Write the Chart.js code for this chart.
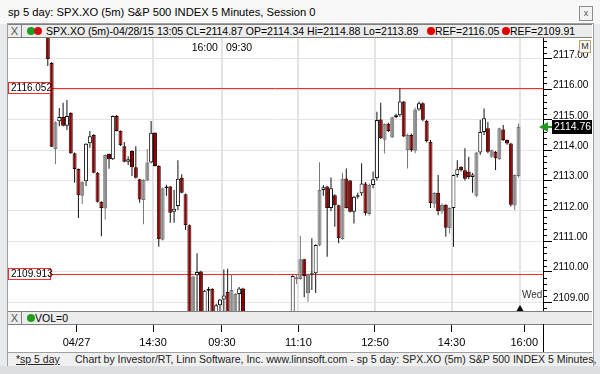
<!DOCTYPE html>
<html>
<head>
<meta charset="utf-8">
<script src="https://cdn.jsdelivr.net/npm/chart.js@4.4.1/dist/chart.umd.min.js"></script>
<style>
  html, body { margin: 0; padding: 0; }
  body { width: 600px; height: 374px; position: relative; overflow: hidden; background: #e8eaed; font-family: "Liberation Sans", Arial, sans-serif; color: #000; }
  div, span, canvas { position: absolute; }
  #titlebar { left: 0; top: 0; width: 600px; height: 24px; background: #f8f8f8; }
  #title { left: 8px; top: 6px; font-size: 11.2px; white-space: nowrap; }
  #closebtn { left: 579px; top: 6px; width: 12px; height: 13px; border: 1px solid #8c8c8c; background: #f3f3f3; font-size: 9px; line-height: 13px; text-align: center; color: #555; }
  #frame { left: 7px; top: 23px; width: 585px; height: 343px; border: 1px solid #a0a0a0; background: #fff; }
  .strip { left: 8px; width: 584px; height: 12px; background: #ececec; border-top: 1px solid #808080; border-bottom: 1px solid #808080; font-size: 10.5px; line-height: 12px; white-space: nowrap; z-index: 2; }
  .xbox { left: 0; top: 0; width: 13px; height: 12px; border-right: 1px solid #808080; text-align: center; color: #555; font-size: 11px; }
  .dot { top: 2px; width: 8px; height: 8px; border-radius: 50%; }
  .txt { top: 0; }
  #chartwrap { left: 8px; top: 38px; width: 584px; height: 314px; z-index: 1; }
  #mbtn { left: 579px; top: 40px; width: 10px; height: 11px; border: 1px solid #c0a070; background: #f6f6f6; font-size: 9px; line-height: 11px; text-align: center; color: #333; z-index: 3; }
  #axisline { left: 543px; top: 324px; width: 1px; height: 28px; background: #000; z-index: 3; }
  #footer { left: 8px; top: 352px; width: 584px; height: 13px; border-top: 1px solid #a0a0a0; background: #f0f0f0; font-size: 10.5px; line-height: 13px; white-space: nowrap; z-index: 2; }
  #bottomframe { left: 0; top: 366px; width: 600px; height: 8px; background: #dcdee2; }
</style>
</head>
<body>
<div id="titlebar"><span id="title">sp 5 day: SPX.XO (5m) S&amp;P 500 INDEX 5 Minutes, Session 0</span></div>
<div id="closebtn">x</div>
<div id="frame"></div>
<div class="strip" style="top:24px">
  <span class="xbox">X</span>
  <span class="dot" style="left:19px;background:#1e9e1e"></span>
  <span class="dot" style="left:26px;background:#d01010"></span>
  <span class="txt" style="left:38px">SPX.XO (5m)-04/28/15 13:05 CL=2114.87 OP=2114.34 Hi=2114.88 Lo=2113.89</span>
  <span class="dot" style="left:419px;background:#e00000"></span>
  <span class="txt" style="left:427px">REF=2116.05</span>
  <span class="dot" style="left:494px;background:#e00000"></span>
  <span class="txt" style="left:502px">REF=2109.91</span>
</div>
<div id="chartwrap"><canvas id="c" width="584" height="314"></canvas></div>
<div id="mbtn">M</div>
<div class="strip" style="top:311px">
  <span class="xbox">X</span>
  <span class="dot" style="left:19px;background:#1e9e1e"></span>
  <span class="txt" style="left:27px">VOL=0</span>
</div>
<div id="axisline"></div>
<div id="footer">
  <span style="left:8px;text-decoration:underline;color:#222">*sp 5 day</span>
  <span style="left:67px;color:#222">Chart by Investor/RT, Linn Software, Inc. www.linnsoft.com - sp 5 day: SPX.XO (5m) S&amp;P 500 INDEX 5 Minutes,</span>
</div>
<div id="bottomframe"></div>
<script>
// bar index 0 = 04/28 09:30, negative = 04/27
const firstBar = -50;
const opens = [
  2119.60, 2119.20, 2118.90, 2118.70,
  2118.30, 2116.87, 2114.04, 2114.95, 2115.09, 2114.80, 2115.22, 2113.90, 2113.38, 2112.50,
  2112.98, 2114.23, 2114.50, 2113.26, 2112.30, 2112.08, 2113.87, 2113.70, 2115.12, 2114.63,
  2114.13, 2113.62, 2113.97, 2113.44, 2113.04, 2112.36, 2113.00, 2113.59, 2114.57, 2113.48,
  2111.05, 2112.75, 2112.80, 2111.97, 2112.16, 2113.09, 2112.55, 2111.53, 2108.10, 2109.88,
  2110.01, 2108.55, 2109.37, 2109.44, 2108.60, 2108.90,
  2109.09, 2109.33, 2108.00, 2108.20, 2109.27, 2109.45, 2107.80, 2106.20, 2104.10, 2101.60,
  2099.80, 2097.30, 2095.40, 2095.80, 2098.20, 2100.80, 2103.50, 2106.00, 2107.90, 2109.75,
  2109.76, 2110.41, 2109.29, 2109.92, 2109.95, 2110.86, 2112.69, 2112.80, 2112.10, 2112.52,
  2112.19, 2111.08, 2113.07, 2113.00, 2111.97, 2112.47, 2112.58, 2112.90, 2111.90, 2112.85,
  2113.08, 2115.01, 2114.34, 2114.87, 2114.42, 2115.08, 2115.15, 2115.60, 2114.00, 2114.50,
  2113.98, 2115.34, 2115.54, 2114.97, 2114.28, 2112.24, 2112.60, 2111.98, 2112.20, 2111.43,
  2112.10, 2113.18, 2113.45, 2113.34, 2113.29, 2113.12, 2112.50, 2113.92, 2114.60, 2114.72,
  2113.78, 2113.95, 2113.70, 2114.68, 2114.33, 2114.22, 2112.18, 2113.15
];
const highs = [
  2119.90, 2119.50, 2119.30, 2119.00,
  2118.40, 2116.90, 2114.95, 2115.39, 2115.56, 2115.65, 2115.25, 2113.92, 2113.40, 2112.98,
  2114.23, 2114.63, 2114.52, 2113.28, 2112.32, 2113.86, 2113.89, 2115.14, 2115.16, 2114.65,
  2114.27, 2113.80, 2113.99, 2114.13, 2113.06, 2113.04, 2114.04, 2114.96, 2114.59, 2113.50,
  2112.77, 2112.86, 2112.82, 2112.69, 2113.67, 2113.21, 2112.57, 2111.55, 2109.86, 2110.61,
  2110.03, 2109.40, 2109.50, 2109.46, 2108.95, 2109.10,
  2110.07, 2110.10, 2109.90, 2109.30, 2109.50, 2109.47, 2108.00, 2106.50, 2104.60, 2102.40,
  2100.30, 2098.10, 2096.20, 2098.60, 2101.20, 2103.90, 2106.40, 2108.30, 2109.88, 2109.90,
  2111.18, 2110.43, 2109.94, 2111.10, 2110.90, 2113.60, 2112.85, 2112.82, 2113.10, 2112.55,
  2112.20, 2113.26, 2113.40, 2113.02, 2112.50, 2112.60, 2113.57, 2112.95, 2112.90, 2113.30,
  2115.26, 2115.56, 2114.88, 2114.90, 2115.10, 2115.20, 2116.03, 2115.62, 2114.55, 2114.55,
  2115.40, 2115.60, 2115.58, 2115.00, 2114.33, 2112.62, 2113.18, 2112.25, 2112.22, 2112.12,
  2113.20, 2113.67, 2113.47, 2114.06, 2113.78, 2113.25, 2113.95, 2115.00, 2115.37, 2114.93,
  2114.02, 2113.97, 2114.74, 2114.83, 2114.35, 2114.24, 2113.20, 2114.88
];
const lows = [
  2119.00, 2118.60, 2118.40, 2118.10,
  2116.77, 2114.10, 2113.54, 2114.79, 2114.79, 2114.66, 2113.88, 2112.93, 2111.77, 2112.23,
  2112.82, 2114.08, 2113.24, 2112.28, 2111.17, 2111.72, 2113.39, 2113.68, 2114.61, 2114.14,
  2113.60, 2113.51, 2113.15, 2113.07, 2112.27, 2111.56, 2112.98, 2113.57, 2113.46, 2110.82,
  2111.03, 2112.50, 2111.61, 2111.61, 2112.03, 2112.58, 2111.37, 2108.00, 2108.00, 2108.40,
  2108.40, 2108.50, 2108.60, 2108.50, 2108.40, 2108.50,
  2108.30, 2108.00, 2107.80, 2108.10, 2108.40, 2107.50, 2105.90, 2103.80, 2101.20, 2099.30,
  2096.90, 2094.80, 2094.00, 2095.50, 2097.90, 2100.40, 2103.10, 2105.60, 2107.70, 2109.60,
  2109.74, 2109.16, 2109.01, 2109.40, 2109.30, 2110.84, 2112.50, 2110.49, 2112.00, 2111.48,
  2110.94, 2111.05, 2112.08, 2111.95, 2111.59, 2112.40, 2112.50, 2111.85, 2111.85, 2112.75,
  2113.00, 2114.37, 2113.89, 2114.60, 2114.40, 2115.05, 2115.10, 2114.43, 2113.40, 2113.95,
  2113.90, 2115.30, 2114.95, 2114.25, 2112.10, 2112.10, 2111.86, 2111.90, 2111.15, 2111.26,
  2110.82, 2113.10, 2113.30, 2113.00, 2113.05, 2112.60, 2112.45, 2113.85, 2114.50, 2113.90,
  2113.75, 2113.35, 2113.68, 2114.30, 2114.18, 2112.15, 2112.03, 2113.10
];
const closes = [
  2119.20, 2118.90, 2118.70, 2118.30,
  2117.00, 2114.11, 2114.92, 2115.09, 2114.80, 2115.12, 2113.90, 2113.38, 2112.52, 2112.96,
  2114.21, 2114.46, 2113.26, 2112.30, 2112.10, 2113.84, 2113.70, 2115.12, 2114.63, 2114.16,
  2113.62, 2113.70, 2113.44, 2113.09, 2112.38, 2113.02, 2113.59, 2114.57, 2113.48, 2111.07,
  2112.75, 2112.80, 2111.94, 2112.07, 2113.06, 2112.60, 2111.53, 2108.20, 2109.84, 2109.99,
  2108.50, 2109.37, 2109.44, 2108.60, 2108.90, 2109.09,
  2109.22, 2108.10, 2109.40, 2109.27, 2109.45, 2107.80, 2106.20, 2104.10, 2101.60, 2099.80,
  2097.30, 2095.40, 2095.80, 2098.20, 2100.80, 2103.50, 2106.00, 2107.90, 2109.86, 2109.82,
  2110.41, 2109.86, 2109.92, 2109.95, 2110.88, 2112.69, 2112.78, 2112.10, 2112.75, 2112.19,
  2111.10, 2113.07, 2112.10, 2111.97, 2112.47, 2112.52, 2112.90, 2111.92, 2112.85, 2113.04,
  2114.99, 2114.39, 2114.87, 2114.63, 2115.08, 2115.15, 2115.60, 2114.45, 2114.50, 2114.00,
  2115.34, 2115.54, 2115.00, 2114.30, 2112.26, 2112.59, 2112.00, 2112.20, 2111.45, 2112.10,
  2113.18, 2113.37, 2113.34, 2113.06, 2113.12, 2113.20, 2113.92, 2114.60, 2115.05, 2113.95,
  2114.00, 2113.73, 2114.72, 2114.33, 2114.22, 2112.20, 2113.18, 2114.76
];

const refLevels = [2116.052, 2109.913];
const priceTicks = [2109, 2110, 2111, 2112, 2113, 2114, 2115, 2116, 2117];
const tickBars = [-38.5, -18.5, -0.5, 19.5, 39.5, 59.5, 78.5];
const tickLabels = ['04/27', '14:30', '09:30', '11:10', '12:50', '14:30', '16:00'];
const gridBars = [-18.5, -0.5, 19.5, 39.5, 59.5, 77.5];
const sessionBreak = -0.5;
const sessionLabels = ['16:00', '09:30'];
const nextSession = 77.5;
const nextSessionLabel = 'Wed';

const COLORS = {
    down: {fill: '#900000', edge: '#2b0000', wick: '#111111'},
    gray: {fill: '#8c8c8c', edge: '#6e6e6e', wick: '#777777'},
    up:   {fill: '#ffffff', edge: '#111111', wick: '#111111'},
};

function tone(i) {
    if (closes[i] < opens[i]) return 'down';
    if (i > 0 && opens[i] < closes[i - 1]) return 'gray';
    return 'up';
}

const overlay = {
    id: 'overlay',
    beforeDatasetsDraw(chart) {
        const {ctx, chartArea: a, scales: {x, y}} = chart;
        ctx.save();
        ctx.strokeStyle = '#e4e4e4';
        ctx.lineWidth = 2;
        gridBars.forEach(b => {
            const px = Math.round(x.getPixelForValue(b));
            ctx.beginPath();
            ctx.moveTo(px, a.top);
            ctx.lineTo(px, a.bottom);
            ctx.stroke();
        });
        ctx.strokeStyle = '#ff2a2a';
        ctx.lineWidth = 1;
        refLevels.forEach(v => {
            const py = Math.round(y.getPixelForValue(v)) + 0.5;
            ctx.beginPath();
            ctx.moveTo(a.left, py);
            ctx.lineTo(a.right, py);
            ctx.stroke();
        });
        ctx.restore();
    },
    afterDatasetsDraw(chart) {
        const {ctx, chartArea: a, scales: {x, y}} = chart;
        ctx.save();
        ctx.font = '10px "Liberation Sans", Arial, sans-serif';
        ctx.textBaseline = 'middle';
        refLevels.forEach(v => {
            const py = Math.round(y.getPixelForValue(v));
            ctx.fillStyle = '#fff';
            ctx.fillRect(a.left + 0.5, py - 5.5, 42, 11);
            ctx.strokeStyle = '#ff2a2a';
            ctx.strokeRect(a.left + 0.5, py - 5.5, 42, 11);
            ctx.fillStyle = '#000';
            ctx.fillText(v.toFixed(3), a.left + 3, py + 0.5);
        });
        // session labels along the top
        ctx.font = '10.5px "Liberation Sans", Arial, sans-serif';
        const sx = x.getPixelForValue(sessionBreak);
        ctx.textAlign = 'right';
        ctx.fillText(sessionLabels[0], sx - 4, a.top + 10);
        ctx.textAlign = 'left';
        ctx.fillText(sessionLabels[1], sx + 4, a.top + 10);
        // next session marker
        const plotBottom = a.bottom - 13;
        const nx = Math.round(x.getPixelForValue(nextSession));
        ctx.font = '10px "Liberation Sans", Arial, sans-serif';
        ctx.fillStyle = '#333';
        ctx.fillText(nextSessionLabel, nx + 2, plotBottom - 16);
        ctx.fillStyle = '#000';
        ctx.beginPath();
        ctx.moveTo(nx, plotBottom - 6);
        ctx.lineTo(nx + 3.5, plotBottom);
        ctx.lineTo(nx - 3.5, plotBottom);
        ctx.closePath();
        ctx.fill();
        ctx.restore();
    },
    afterDraw(chart) {
        const {ctx, chartArea: a, scales: {y}} = chart;
        ctx.save();
        // minor ticks every 0.2 on the price axis
        ctx.strokeStyle = '#000';
        ctx.lineWidth = 1;
        for (let k = Math.ceil(y.min * 5); k <= Math.floor(y.max * 5); k++) {
            if (k % 5 === 0) continue;
            const py = Math.round(y.getPixelForValue(k / 5)) + 0.5;
            ctx.beginPath();
            ctx.moveTo(a.right, py);
            ctx.lineTo(a.right + 4, py);
            ctx.stroke();
        }
        // last price marker
        const last = closes[closes.length - 1];
        const py = Math.round(y.getPixelForValue(last));
        ctx.fillStyle = '#1f9a1f';
        ctx.beginPath();
        ctx.moveTo(a.right - 4, py);
        ctx.lineTo(a.right + 5, py - 5);
        ctx.lineTo(a.right + 5, py + 5);
        ctx.closePath();
        ctx.fill();
        ctx.fillRect(a.right + 5, py - 1, 4, 2);
        ctx.fillStyle = '#000';
        ctx.fillRect(a.right + 9, py - 7, 40, 14);
        ctx.fillStyle = '#fff';
        ctx.font = '10.5px "Liberation Sans", Arial, sans-serif';
        ctx.textBaseline = 'middle';
        ctx.fillText(last.toFixed(2), a.right + 11, py + 0.5);
        ctx.restore();
    }
};

new Chart(document.getElementById('c'), {
    type: 'bar',
    data: {
        datasets: [
            {
                label: 'body',
                data: opens.map((o, i) => ({x: firstBar + i, y: [o, closes[i]]})),
                barThickness: 4,
                borderWidth: 1,
                borderSkipped: false,
                minBarLength: 1,
                inflateAmount: 0,
                grouped: false,
                clip: 0,
                backgroundColor: c => COLORS[tone(c.dataIndex)].fill,
                borderColor: c => COLORS[tone(c.dataIndex)].edge,
            },
            {
                label: 'wick',
                data: lows.map((l, i) => ({x: firstBar + i, y: [l, highs[i]]})),
                barThickness: 1,
                borderWidth: 0,
                inflateAmount: 0,
                grouped: false,
                clip: 0,
                backgroundColor: c => COLORS[tone(c.dataIndex)].wick,
            }
        ]
    },
    options: {
        responsive: false,
        animation: false,
        events: [],
        layout: {padding: 0},
        plugins: {legend: {display: false}, tooltip: {enabled: false}},
        scales: {
            x: {
                type: 'linear',
                offset: false,
                min: -56.4,
                max: 83.4,
                afterBuildTicks: s => { s.ticks = tickBars.map(v => ({value: v})); },
                afterFit: s => { s.height = 28; s.paddingLeft = 0; s.paddingRight = 0; },
                grid: {drawOnChartArea: false, offset: false, tickLength: 8, tickColor: '#000'},
                border: {display: true, color: '#000'},
                ticks: {
                    autoSkip: false, maxRotation: 0, padding: 4, color: '#000',
                    font: {family: '"Liberation Sans", Arial, sans-serif', size: 11},
                    callback: (v, i) => tickLabels[i]
                }
            },
            y: {
                position: 'right',
                min: 2108.28,
                max: 2117.69,
                afterBuildTicks: s => { s.ticks = priceTicks.map(v => ({value: v})); },
                afterFit: s => { s.width = 49; s.paddingTop = 0; s.paddingBottom = 0; },
                grid: {color: '#e4e4e4', tickLength: 9, tickColor: '#000'},
                border: {display: true, color: '#000'},
                ticks: {
                    padding: 1, labelOffset: -4, color: '#000',
                    font: {family: '"Liberation Sans", Arial, sans-serif', size: 10},
                    callback: v => Number(v).toFixed(2)
                }
            }
        }
    },
    plugins: [overlay]
});
</script>
</body>
</html>
